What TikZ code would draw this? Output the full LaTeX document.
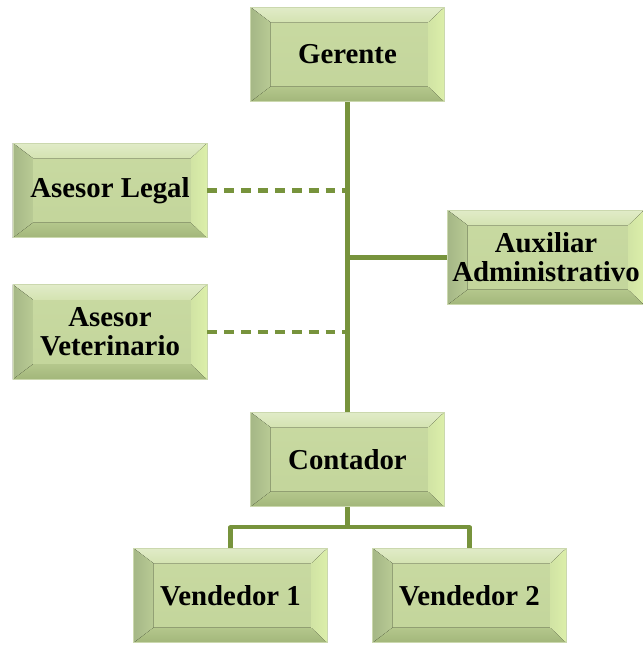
\documentclass[tikz,border=0pt]{standalone}
\usepackage{fontspec}
\setmainfont{Liberation Serif}
\usepackage{tikz}
\usetikzlibrary{positioning,calc}
\definecolor{linegreen}{HTML}{77933C}
\definecolor{facegreen}{HTML}{C6D89E}
\definecolor{topbevel}{HTML}{D4E3B1}
\definecolor{rightbevel}{HTML}{DCEFAA}
\definecolor{leftbevel}{HTML}{A5B786}
\definecolor{bottombevel}{HTML}{A2B67A}
\definecolor{boxedge}{HTML}{CBD8AE}

\tikzset{
  orgbox/.style={
    draw=boxedge, line width=0.6pt,
    minimum width=4.85cm, minimum height=2.37cm,
    align=center, font=\bfseries\fontsize{20.5}{20.5}\selectfont,
    path picture={
      % face
      \fill[top color=facegreen!80!topbevel, bottom color=facegreen!90!bottombevel]
        (path picture bounding box.south west) rectangle (path picture bounding box.north east);
      % top bevel
      \fill[top color=topbevel!70!white, bottom color=topbevel] (path picture bounding box.north west) -- (path picture bounding box.north east)
        -- ([xshift=-0.4cm,yshift=-0.38cm]path picture bounding box.north east)
        -- ([xshift=0.5cm,yshift=-0.38cm]path picture bounding box.north west) -- cycle;
      % left bevel
      \fill[left color=leftbevel, right color=leftbevel!40!facegreen]
        (path picture bounding box.north west) -- ([xshift=0.5cm,yshift=-0.38cm]path picture bounding box.north west)
        -- ([xshift=0.5cm,yshift=0.38cm]path picture bounding box.south west)
        -- (path picture bounding box.south west) -- cycle;
      % bottom bevel
      \fill[top color=bottombevel!50!facegreen, bottom color=bottombevel] (path picture bounding box.south west) -- (path picture bounding box.south east)
        -- ([xshift=-0.4cm,yshift=0.38cm]path picture bounding box.south east)
        -- ([xshift=0.5cm,yshift=0.38cm]path picture bounding box.south west) -- cycle;
      % right bevel
      \fill[left color=rightbevel!50!facegreen, right color=rightbevel] (path picture bounding box.north east) -- ([xshift=-0.4cm,yshift=-0.38cm]path picture bounding box.north east)
        -- ([xshift=-0.4cm,yshift=0.38cm]path picture bounding box.south east)
        -- (path picture bounding box.south east) -- cycle;
    }},
  link/.style={linegreen, line width=2.9pt, line join=round},
  stafflink/.style={linegreen, line width=2.9pt, dash pattern=on 7pt off 5pt}
}

\begin{document}
\begin{tikzpicture}[x=0.025cm, y=-0.025cm]
  \useasboundingbox (0,0) rectangle (643,645);

  % boxes
  \node[orgbox] (gerente) at (347.5,54.5) {Gerente};
  \node[orgbox] (legal) at (110,190.5) {Asesor Legal};
  \node[orgbox] (aux) at (546,257.5) {Auxiliar\\Administrativo};
  \node[orgbox] (vet) at (110,332) {Asesor\\Veterinario};
  \node[orgbox] (contador) at (347.5,459.5) {Contador};
  \node[orgbox] (vend1) at (230.5,595.5) {Vendedor 1};
  \node[orgbox] (vend2) at (469.5,595.5) {Vendedor 2};

  % lines
  \draw[link] (gerente.south) -- (contador.north);
  \draw[stafflink] (legal.east) -- (legal.east -| gerente.south);
  \draw[stafflink] (vet.east) -- (vet.east -| gerente.south);
  \draw[link] (aux.west) -- (aux.west -| gerente.south);
  \coordinate (split) at ($(contador.south)+(0,20)$);
  \draw[link] (contador.south) -- (split) -| (vend1.north);
  \draw[link] (split) -| (vend2.north);
\end{tikzpicture}
\end{document}
